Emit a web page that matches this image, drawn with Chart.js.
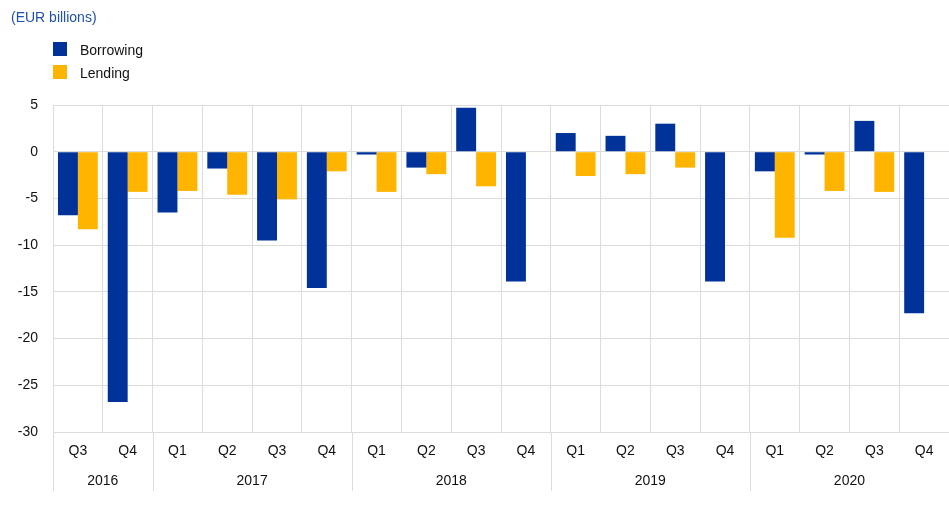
<!DOCTYPE html>
<html>
<head>
<meta charset="utf-8">
<script src="https://cdn.jsdelivr.net/npm/chart.js@4/dist/chart.umd.min.js"></script>
<style>
  html, body { margin: 0; padding: 0; background: #fff; }
  #wrap { position: relative; width: 949px; height: 507px; font-family: "Liberation Sans", Arial, sans-serif; }
  #unit { position: absolute; left: 11px; top: 9px; font-size: 14px; color: #1f50b0; }
  .leg { position: absolute; left: 53px; font-size: 14px; color: #111; }
  .leg span { display: inline-block; width: 14px; height: 14px; vertical-align: top; margin-right: 13px; }
  canvas { position: absolute; left: 0; top: 0; }
</style>
</head>
<body>
<div id="wrap">
  <canvas id="flowsChart" width="949" height="507"></canvas>
  <div id="unit">(EUR billions)</div>
  <div class="leg" style="top:42px"><span style="background:#003299"></span>Borrowing</div>
  <div class="leg" style="top:65px"><span style="background:#ffb400"></span>Lending</div>
</div>
<script>
// Quarterly flows, 2016 Q3 - 2020 Q4
const quarters = ['Q3', 'Q4', 'Q1', 'Q2', 'Q3', 'Q4', 'Q1', 'Q2', 'Q3', 'Q4',
                  'Q1', 'Q2', 'Q3', 'Q4', 'Q1', 'Q2', 'Q3', 'Q4'];
const yearLabels = ['2016', '2017', '2018', '2019', '2020'];
const quartersPerYear = [2, 4, 4, 4, 4];

const borrowing = [-6.8, -26.8, -6.5, -1.8, -9.5, -14.6, -0.3, -1.7, 4.7, -13.9,
                   2.0, 1.7, 3.0, -13.9, -2.1, -0.3, 3.3, -17.3];
const lending = [-8.3, -4.3, -4.2, -4.6, -5.1, -2.1, -4.3, -2.4, -3.7, -0.05,
                 -2.6, -2.4, -1.7, -0.05, -9.2, -4.2, -4.3, -0.05];

const yTicks = [5, 0, -5, -10, -15, -20, -25, -30];

const gridColor = '#dcdcdc';
const fontFamily = '"Liberation Sans", Arial, sans-serif';

// Draws the year row under the quarter labels, with separators between years
const yearRow = {
    id: 'yearRow',
    afterDraw(chart) {
        const ctx = chart.ctx;
        const x = chart.scales.x;
        const area = chart.chartArea;
        const step = x.width / quarters.length;
        ctx.save();
        ctx.strokeStyle = gridColor;
        ctx.lineWidth = 1;
        ctx.fillStyle = '#111';
        ctx.font = '14px ' + fontFamily;
        ctx.textAlign = 'center';
        ctx.textBaseline = 'middle';
        let start = 0;
        yearLabels.forEach((year, i) => {
            const left = x.getPixelForValue(start) - step / 2;
            const right = left + step * quartersPerYear[i];
            ctx.beginPath();
            ctx.moveTo(Math.round(left) + 0.5, area.bottom);
            ctx.lineTo(Math.round(left) + 0.5, 491);
            ctx.stroke();
            ctx.fillText(year, (left + right) / 2, 481);
            start += quartersPerYear[i];
        });
        ctx.restore();
    }
};

new Chart(document.getElementById('flowsChart'), {
    type: 'bar',
    data: {
        labels: quarters,
        datasets: [
            {
                label: 'Borrowing',
                data: borrowing,
                backgroundColor: '#003299',
                borderWidth: 0
            },
            {
                label: 'Lending',
                data: lending,
                backgroundColor: '#ffb400',
                borderWidth: 0
            }
        ]
    },
    options: {
        responsive: false,
        animation: false,
        layout: {
            padding: { top: 105, right: 0, bottom: 0, left: 0 }
        },
        datasets: {
            bar: {
                categoryPercentage: 0.8,
                barPercentage: 1.0
            }
        },
        plugins: {
            legend: { display: false },
            tooltip: { enabled: false }
        },
        scales: {
            x: {
                grid: {
                    color: gridColor,
                    offset: true,
                    drawTicks: false
                },
                border: { color: gridColor },
                ticks: {
                    color: '#111',
                    padding: 11,
                    maxRotation: 0,
                    autoSkip: false,
                    font: { family: fontFamily, size: 14 }
                },
                afterFit(scale) {
                    scale.height = 75;
                }
            },
            y: {
                min: -30,
                max: 5,
                afterBuildTicks(scale) {
                    scale.ticks = yTicks.map(v => ({ value: v }));
                },
                grid: {
                    color: gridColor,
                    drawTicks: false
                },
                border: { color: gridColor },
                ticks: {
                    color: '#111',
                    padding: 15,
                    font: { family: fontFamily, size: 14 }
                },
                afterFit(scale) {
                    scale.width = 53;
                }
            }
        }
    },
    plugins: [yearRow]
});
</script>
</body>
</html>
